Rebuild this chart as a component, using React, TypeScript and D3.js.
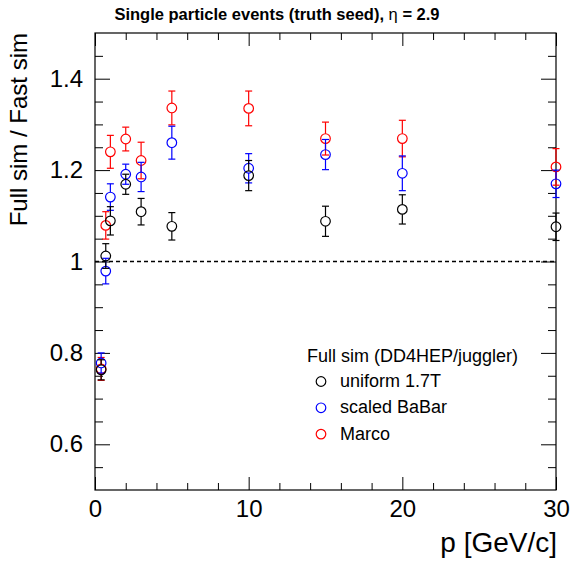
import React, { useEffect, useRef } from 'react';
import * as d3 from 'd3';

const W = 575;
const H = 563;
const margin = { top: 33, right: 19, bottom: 73, left: 95 };

// momentum points [GeV/c]
const momenta = [0.4, 0.7, 1, 2, 3, 5, 10, 15, 20, 30];

// full sim / fast sim ratios and their errors
const uniformRatio = [0.763, 1.012, 1.089, 1.169, 1.109, 1.077, 1.188, 1.088, 1.114, 1.076];
const uniformErr = [0.022, 0.027, 0.031, 0.022, 0.029, 0.03, 0.033, 0.033, 0.032, 0.03];
const babarRatio = [0.778, 0.979, 1.141, 1.191, 1.185, 1.26, 1.204, 1.234, 1.193, 1.17];
const babarErr = [0.022, 0.028, 0.029, 0.022, 0.032, 0.036, 0.032, 0.033, 0.038, 0.03];
const marcoRatio = [0.765, 1.079, 1.24, 1.268, 1.221, 1.336, 1.335, 1.269, 1.269, 1.207];
const marcoErr = [0.025, 0.03, 0.036, 0.026, 0.04, 0.037, 0.038, 0.036, 0.04, 0.04];

const seriesNames = ['uniform 1.7T', 'scaled BaBar', 'Marco'];
const seriesColors = ['#000000', '#0000ff', '#ff0000'];

const xMajor = [0, 10, 20, 30];
const xMinor = [2, 4, 6, 8, 12, 14, 16, 18, 22, 24, 26, 28];
const yMajor = [0.6, 0.8, 1, 1.2, 1.4];
const yMinor = [0.55, 0.65, 0.7, 0.75, 0.85, 0.9, 0.95, 1.05, 1.1, 1.15, 1.25, 1.3, 1.35, 1.45];

const FONT = '"Liberation Sans", Arial, Helvetica, sans-serif';

export default function App() {
  const ref = useRef<SVGSVGElement>(null);

  useEffect(() => {
    const svg = d3.select(ref.current);
    svg.selectAll('*').remove();

    const iw = W - margin.left - margin.right;
    const ih = H - margin.top - margin.bottom;

    const x = d3.scaleLinear().domain([0, 30]).range([0, iw]);
    const y = d3.scaleLinear().domain([0.5, 1.5]).range([ih, 0]);

    const g = svg.append('g').attr('transform', `translate(${margin.left},${margin.top})`);

    // title
    svg.append('text')
      .attr('x', 277)
      .attr('y', 20)
      .attr('text-anchor', 'middle')
      .style('font-family', FONT)
      .style('font-size', '16.5px')
      .style('font-weight', 'bold')
      .text('Single particle events (truth seed), ')
      .append('tspan')
      .style('font-weight', 'normal')
      .text('η')
      .append('tspan')
      .style('font-weight', 'bold')
      .text(' = 2.9');

    // axes (ticks pointing inside, like ROOT)
    const fmt = (d: any) => String(+(+d).toFixed(1));
    const styleAxis = (sel: any, labels: boolean) => {
      sel.select('.domain').remove();
      sel.selectAll('line').attr('stroke', '#000').attr('stroke-width', 1);
      if (labels) {
        sel.selectAll('text')
          .style('font-family', FONT)
          .style('font-size', '24px')
          .attr('fill', '#000');
      }
    };

    g.append('g').attr('transform', `translate(0,${ih})`)
      .call(d3.axisBottom(x).tickValues(xMajor).tickSize(-13).tickPadding(10).tickFormat(fmt))
      .call(styleAxis, true);
    g.append('g').attr('transform', `translate(0,${ih})`)
      .call(d3.axisBottom(x).tickValues(xMinor).tickSize(-7).tickFormat(() => ''))
      .call(styleAxis, false);
    g.append('g')
      .call(d3.axisTop(x).tickValues(xMajor).tickSize(-13).tickFormat(() => ''))
      .call(styleAxis, false);
    g.append('g')
      .call(d3.axisTop(x).tickValues(xMinor).tickSize(-7).tickFormat(() => ''))
      .call(styleAxis, false);

    g.append('g')
      .call(d3.axisLeft(y).tickValues(yMajor).tickSize(-15).tickPadding(12).tickFormat(fmt))
      .call(styleAxis, true);
    g.append('g')
      .call(d3.axisLeft(y).tickValues(yMinor).tickSize(-8).tickFormat(() => ''))
      .call(styleAxis, false);
    g.append('g').attr('transform', `translate(${iw},0)`)
      .call(d3.axisRight(y).tickValues(yMajor).tickSize(-15).tickFormat(() => ''))
      .call(styleAxis, false);
    g.append('g').attr('transform', `translate(${iw},0)`)
      .call(d3.axisRight(y).tickValues(yMinor).tickSize(-8).tickFormat(() => ''))
      .call(styleAxis, false);

    // frame
    g.append('rect')
      .attr('width', iw)
      .attr('height', ih)
      .attr('fill', 'none')
      .attr('stroke', '#000')
      .attr('stroke-width', 1.2);

    // reference line at 1
    g.append('line')
      .attr('x1', x(0)).attr('x2', x(30))
      .attr('y1', y(1)).attr('y2', y(1))
      .attr('stroke', '#000')
      .attr('stroke-width', 1.3)
      .attr('stroke-dasharray', '4,3');

    const R = 4.8;
    const cap = 3.5;
    const series = [
      { vals: marcoRatio, errs: marcoErr, color: seriesColors[2] },
      { vals: babarRatio, errs: babarErr, color: seriesColors[1] },
      { vals: uniformRatio, errs: uniformErr, color: seriesColors[0] },
    ];

    series.forEach(s => {
      const pts = momenta.map((p, i) => ({ p, v: s.vals[i], e: s.errs[i] }));
      const sg = g.append('g').attr('stroke', s.color).attr('fill', 'none').attr('stroke-width', 1.2);
      pts.forEach(d => {
        const cx = x(d.p);
        const cy = y(d.v);
        const top = y(d.v + d.e);
        const bot = y(d.v - d.e);
        if (cy - R > top) {
          sg.append('line').attr('x1', cx).attr('x2', cx).attr('y1', top).attr('y2', cy - R);
        }
        if (cy + R < bot) {
          sg.append('line').attr('x1', cx).attr('x2', cx).attr('y1', cy + R).attr('y2', bot);
        }
        sg.append('line').attr('x1', cx - cap).attr('x2', cx + cap).attr('y1', top).attr('y2', top);
        sg.append('line').attr('x1', cx - cap).attr('x2', cx + cap).attr('y1', bot).attr('y2', bot);
        sg.append('circle').attr('cx', cx).attr('cy', cy).attr('r', R);
      });
    });

    // axis titles
    svg.append('text')
      .attr('x', 557)
      .attr('y', 552)
      .attr('text-anchor', 'end')
      .style('font-family', FONT)
      .style('font-size', '28px')
      .text('p [GeV/c]');

    svg.append('text')
      .attr('transform', 'translate(27,33) rotate(-90)')
      .attr('text-anchor', 'end')
      .style('font-family', FONT)
      .style('font-size', '24px')
      .text('Full sim / Fast sim');

    // legend
    const lg = svg.append('g').style('font-family', FONT).style('font-size', '18px');
    lg.append('text').attr('x', 307).attr('y', 361.5).text('Full sim (DD4HEP/juggler)');
    seriesNames.forEach((name, i) => {
      const by = 387 + i * 26.3;
      lg.append('circle')
        .attr('cx', 321).attr('cy', by - 5.5).attr('r', R)
        .attr('fill', 'none').attr('stroke', seriesColors[i]).attr('stroke-width', 1.2);
      lg.append('text').attr('x', 340).attr('y', by).text(name);
    });
  }, []);

  return (
    <svg
      ref={ref}
      width={W}
      height={H}
      style={{ position: 'absolute', left: 0, top: 0, background: '#fff' }}
    />
  );
}
